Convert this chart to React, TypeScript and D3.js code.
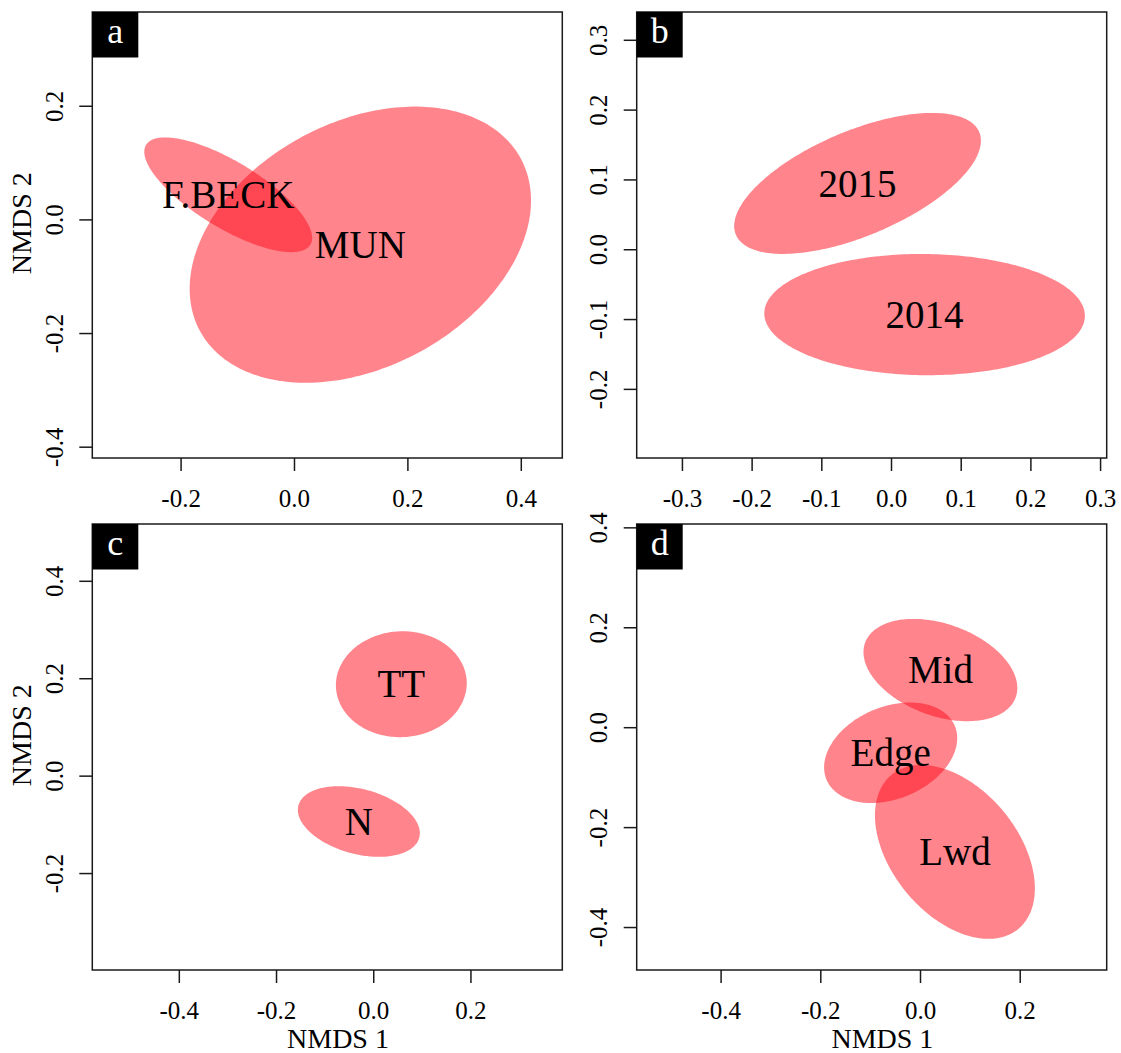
import React, { useRef, useEffect } from 'react';
import * as d3 from 'd3';

// NMDS ordination panels, one ellipse per group
const W = 1121;
const H = 1053;

const panelNames = ['a', 'b', 'c', 'd'];
const xLimits = [[-0.3557, 0.4732], [-0.3649, 0.3095], [-0.578, 0.389], [-0.5683, 0.3745]];
const yLimits = [[-0.4199, 0.365], [-0.299, 0.3398], [-0.399, 0.5166], [-0.486, 0.4067]];
const xTicks = [[-0.2, 0, 0.2, 0.4], [-0.3, -0.2, -0.1, 0, 0.1, 0.2, 0.3], [-0.4, -0.2, 0, 0.2], [-0.4, -0.2, 0, 0.2]];
const yTicks = [[-0.4, -0.2, 0, 0.2], [-0.2, -0.1, 0, 0.1, 0.2, 0.3], [-0.2, 0, 0.2, 0.4], [-0.4, -0.2, 0, 0.2, 0.4]];
const xTitles = ['', '', 'NMDS 1', 'NMDS 1'];
const yTitles = ['NMDS 2', '', 'NMDS 2', ''];

// ellipses: centre, half-extent on each axis and x/y correlation
const groups = ['F.BECK', 'MUN', '2015', '2014', 'TT', 'N', 'Mid', 'Edge', 'Lwd'];
const groupPanel = [0, 0, 1, 1, 2, 2, 3, 3, 3];
const centreX = [-0.116, 0.117, -0.048, 0.0482, 0.0578, -0.0296, 0.0409, -0.0589, 0.070];
const centreY = [0.0433, -0.0445, 0.0943, -0.0936, 0.1877, -0.0942, 0.1144, -0.0512, -0.2496];
const spreadX = [0.148, 0.301, 0.177, 0.230, 0.1346, 0.1255, 0.1543, 0.1335, 0.1604];
const spreadY = [0.101, 0.243, 0.101, 0.0868, 0.1087, 0.0725, 0.1024, 0.1006, 0.174];
const corr = [-0.75, 0.32, 0.605, -0.02, 0.02, -0.33, -0.35, 0.29, -0.42];

const boxLeft = [92.3, 636.7, 92.3, 636.7];
const boxTop = [12, 12, 524, 524];
const boxW = 470;
const boxH = 446;

const FONT = '"Liberation Serif", "Times New Roman", serif';
const FILL = 'rgb(255,10,25)';
const INK = '#1a1a1a';

export default function App() {
    const ref = useRef<SVGSVGElement>(null);

    useEffect(() => {
        const svg = d3.select(ref.current);
        svg.selectAll('*').remove();

        panelNames.forEach((name, i) => {
            const left = boxLeft[i];
            const top = boxTop[i];
            const x = d3.scaleLinear().domain(xLimits[i]).range([left, left + boxW]);
            const y = d3.scaleLinear().domain(yLimits[i]).range([top + boxH, top]);
            const g = svg.append('g');

            const line = d3.line<number[]>()
                .x(p => x(p[0]))
                .y(p => y(p[1]))
                .curve(d3.curveLinearClosed);

            const idx = groups.map((_, k) => k).filter(k => groupPanel[k] === i);

            idx.forEach(k => {
                const s = Math.sqrt(1 - corr[k] * corr[k]);
                const pts = d3.range(0, 2 * Math.PI, Math.PI / 120).map(t => [
                    centreX[k] + spreadX[k] * Math.cos(t),
                    centreY[k] + spreadY[k] * (corr[k] * Math.cos(t) + s * Math.sin(t)),
                ]);
                g.append('path')
                    .attr('d', line(pts))
                    .attr('fill', FILL)
                    .attr('fill-opacity', 0.5);
            });

            idx.forEach(k => {
                g.append('text')
                    .attr('x', x(centreX[k]))
                    .attr('y', y(centreY[k]))
                    .attr('dy', '0.34em')
                    .attr('text-anchor', 'middle')
                    .style('font-family', FONT)
                    .style('font-size', '39px')
                    .attr('fill', '#000')
                    .text(groups[k]);
            });

            // bottom axis
            const ax = g.append('g')
                .attr('transform', `translate(0,${top + boxH})`)
                .call(d3.axisBottom(x).tickValues(xTicks[i]).tickSize(13).tickSizeOuter(0)
                    .tickFormat(d => (+d).toFixed(1)));
            ax.select('.domain').remove();
            ax.selectAll('line').attr('stroke', INK).attr('stroke-width', 1.5);
            ax.selectAll('text')
                .attr('y', 48.5)
                .attr('dy', 0)
                .attr('fill', '#000')
                .style('font-family', FONT)
                .style('font-size', '25px');

            // left axis, labels turned
            const ay = g.append('g')
                .attr('transform', `translate(${left},0)`)
                .call(d3.axisLeft(y).tickValues(yTicks[i]).tickSize(13).tickSizeOuter(0)
                    .tickFormat(d => (+d).toFixed(1)));
            ay.select('.domain').remove();
            ay.selectAll('line').attr('stroke', INK).attr('stroke-width', 1.5);
            ay.selectAll('text')
                .attr('x', 0)
                .attr('dy', 0)
                .attr('text-anchor', 'middle')
                .attr('transform', 'translate(-29.3,0) rotate(-90)')
                .attr('fill', '#000')
                .style('font-family', FONT)
                .style('font-size', '25px');

            // frame
            g.append('rect')
                .attr('x', left)
                .attr('y', top)
                .attr('width', boxW)
                .attr('height', boxH)
                .attr('fill', 'none')
                .attr('stroke', INK)
                .attr('stroke-width', 1.5);

            // panel letter
            g.append('rect')
                .attr('x', left)
                .attr('y', top)
                .attr('width', 46)
                .attr('height', 45.5)
                .attr('fill', '#000');
            g.append('text')
                .attr('x', left + 23)
                .attr('y', top + 31)
                .attr('text-anchor', 'middle')
                .attr('fill', '#fff')
                .style('font-family', FONT)
                .style('font-size', '36px')
                .text(name);

            if (xTitles[i]) {
                g.append('text')
                    .attr('x', left + boxW / 2 + 10.7)
                    .attr('y', top + boxH + 78.3)
                    .attr('text-anchor', 'middle')
                    .attr('fill', '#000')
                    .style('font-family', FONT)
                    .style('font-size', '28px')
                    .text(xTitles[i]);
            }
            if (yTitles[i]) {
                g.append('text')
                    .attr('transform', `translate(${left - 61.7},${top + boxH / 2 - 11.8}) rotate(-90)`)
                    .attr('text-anchor', 'middle')
                    .attr('fill', '#000')
                    .style('font-family', FONT)
                    .style('font-size', '28px')
                    .text(yTitles[i]);
            }
        });
    }, []);

    return (
        <div style={{ position: 'absolute', left: 0, top: 0, background: '#fff' }}>
            <svg ref={ref} width={W} height={H} style={{ display: 'block' }}></svg>
        </div>
    );
}
